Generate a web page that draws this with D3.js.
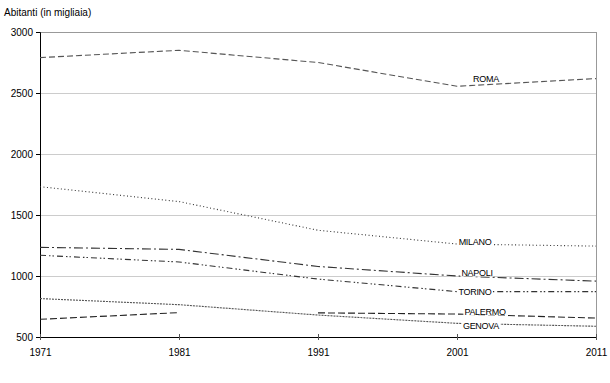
<!DOCTYPE html>
<html>
<head>
<meta charset="utf-8">
<script src="https://cdn.jsdelivr.net/npm/d3@7"></script>
<style>
  body { margin: 0; background: #fff; }
  text { font-family: "Liberation Sans", Arial, sans-serif; }
</style>
</head>
<body>
<script>
const width = 610;
const height = 383;

// data (migliaia di abitanti)
const years = [1971, 1981, 1991, 2001, 2011];
const yTicks = [500, 1000, 1500, 2000, 2500, 3000];
const roma = [2790, 2850, 2750, 2555, 2618];
const milano = [1732, 1610, 1375, 1262, 1245];
const napoli = [1235, 1218, 1078, 1000, 958];
const torino = [1170, 1115, 975, 872, 872];
const palermo = [645, 700, 698, 688, 655];
const genova = [815, 765, 680, 612, 588];

const cities = [
  { name: "ROMA", values: roma, dash: "6,3", color: "#555", lx: 486, ly: 78 },
  { name: "MILANO", values: milano, dash: "1,2.5", color: "#333", lx: 475, ly: 241 },
  { name: "NAPOLI", values: napoli, dash: "9,3,2,3", color: "#333", lx: 477, ly: 272 },
  { name: "TORINO", values: torino, dash: "6,3,1.5,2,1.5,3", color: "#333", lx: 475, ly: 291 },
  { name: "PALERMO", values: palermo, dash: "7,3", color: "#222", lx: 485, ly: 311, gap: 1 },
  { name: "GENOVA", values: genova, dash: "2,1", color: "#555", lx: 481, ly: 325 }
];

const x = d3.scaleLinear().domain([1971, 2011]).range([40, 596]);
const y = d3.scaleLinear().domain([500, 3000]).range([337, 32]);

const svg = d3.select("body").append("svg")
  .attr("width", width)
  .attr("height", height);

// grid
svg.append("g")
  .selectAll("line")
  .data(yTicks.filter(d => d > 500))
  .join("line")
  .attr("x1", x(1971)).attr("x2", x(2011))
  .attr("y1", d => y(d)).attr("y2", d => y(d))
  .attr("stroke", d => d === 3000 ? "#999" : "#ccc")
  .attr("stroke-width", 1)
  .attr("shape-rendering", "crispEdges");

svg.append("line")
  .attr("x1", x(2011)).attr("x2", x(2011))
  .attr("y1", y(3000)).attr("y2", y(500))
  .attr("stroke", "#999")
  .attr("shape-rendering", "crispEdges");

// axes
const yAxis = svg.append("g")
  .attr("transform", `translate(${x(1971)},0)`)
  .call(d3.axisLeft(y).tickValues(yTicks).tickSize(4).tickPadding(3).tickFormat(d3.format("d")));
yAxis.select(".domain").attr("stroke", "#000");
yAxis.selectAll("text").attr("font-size", 10).attr("fill", "#000");

const xAxis = svg.append("g")
  .attr("transform", `translate(0,${y(500)})`)
  .call(d3.axisBottom(x).tickValues(years).tickSize(3).tickPadding(9).tickFormat(d3.format("d")));
xAxis.select(".domain").attr("stroke", "#000");
xAxis.selectAll(".tick line").attr("y1", -3).attr("stroke", "#555");
xAxis.selectAll("text").attr("font-size", 10).attr("fill", "#000");

svg.append("text")
  .attr("x", 4).attr("y", 16)
  .attr("font-size", 10)
  .text("Abitanti (in migliaia)");

// lines
const line = d3.line()
  .x(d => x(d.year))
  .y(d => y(d.value));

cities.forEach(c => {
  const pts = years.map((yr, i) => ({ year: yr, value: c.values[i] }));
  const pieces = c.gap ? [pts.slice(0, 2), pts.slice(2)] : [pts];
  pieces.forEach(p => {
    svg.append("path")
      .datum(p)
      .attr("d", line)
      .attr("fill", "none")
      .attr("stroke", c.color)
      .attr("stroke-width", 1.1)
      .attr("stroke-dasharray", c.dash);
  });
});

// labels
cities.forEach(c => {
  const t = svg.append("text")
    .attr("x", c.lx).attr("y", c.ly + 3.5)
    .attr("text-anchor", "middle")
    .attr("font-size", 9)
    .attr("letter-spacing", -0.3)
    .text(c.name);
  const b = t.node().getBBox();
  svg.insert("rect", () => t.node())
    .attr("x", b.x - 1).attr("y", b.y + 1)
    .attr("width", b.width + 2).attr("height", b.height - 2)
    .attr("fill", "#fff");
});
</script>
</body>
</html>
